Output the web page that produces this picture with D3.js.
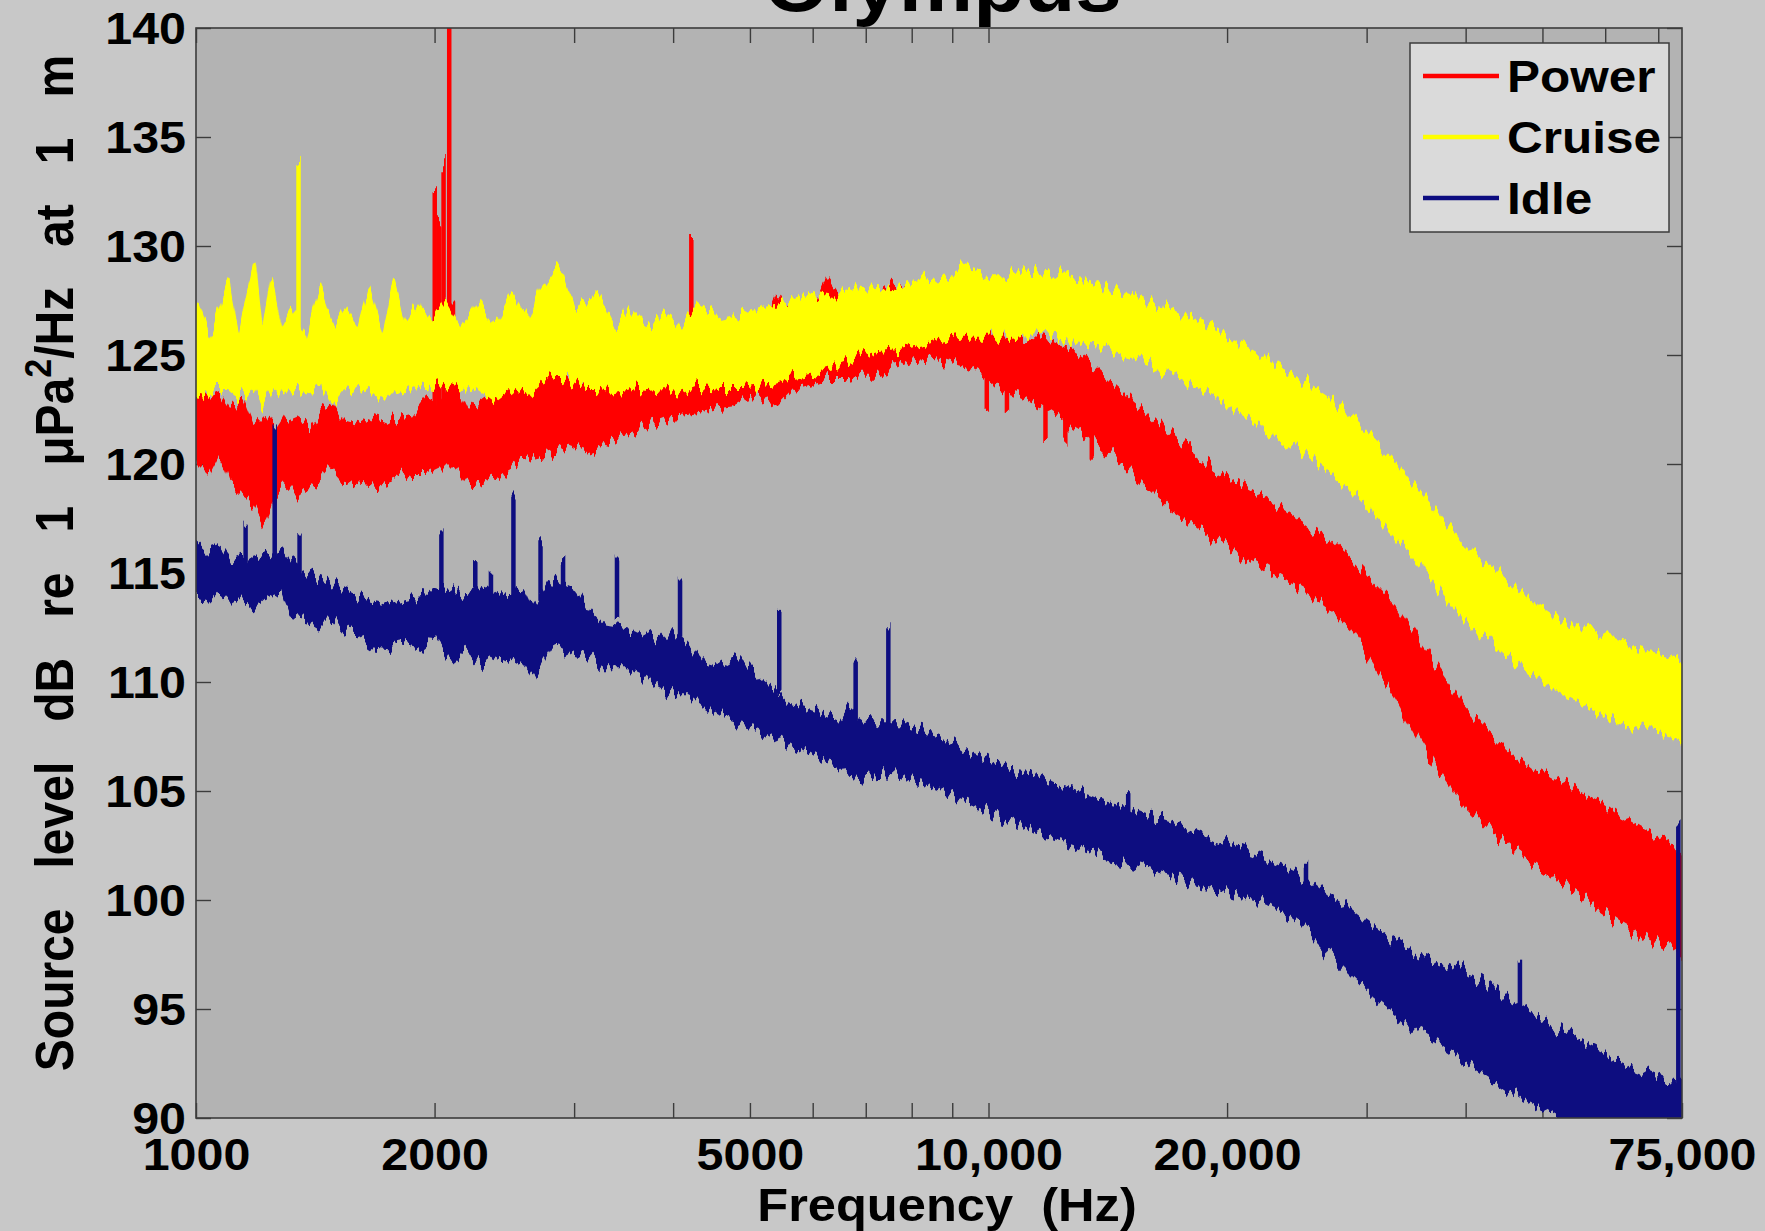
<!DOCTYPE html>
<html><head><meta charset="utf-8">
<script src="https://cdn.jsdelivr.net/npm/d3@7"></script>
<style>
html,body{margin:0;padding:0;background:#c8c8c8;}
svg{display:block;}
text{font-family:"Liberation Sans",Arial,Helvetica,sans-serif;font-weight:bold;fill:#000;}
</style></head><body>
<svg id="chart" width="1765" height="1231"></svg>
<script>
// ---------------- data ----------------
const chartTitle = "Olympus";
const xTitle = "Frequency  (Hz)";
const seriesNames = ["Power", "Cruise", "Idle"];
const xTickValues = [1000, 2000, 3000, 4000, 5000, 6000, 7000, 8000, 9000, 10000, 20000, 30000, 40000, 50000, 60000, 70000];
const xTickLabels = {1000: "1000", 2000: "2000", 5000: "5000", 10000: "10,000", 20000: "20,000", 75000: "75,000"};
const yTickValues = [90, 95, 100, 105, 110, 115, 120, 125, 130, 135, 140];

// [frequency Hz, lower edge dB, upper edge dB] of each noisy trace
const powerBand = [
[1000,120.3,123.3],[1005,120.1,123.5],[1037,119.6,123.0],[1071,120.6,123.2],[1107,119.1,122.4],
[1144,118.6,123.0],[1181,118.3,121.7],[1221,117.4,122.2],[1261,118.6,121.4],[1303,119.1,122.2],
[1347,118.6,121.9],[1392,119.0,121.7],[1438,119.3,122.4],[1485,119.9,122.7],[1535,119.3,121.9],
[1612,119.1,121.7],[1693,119.0,122.2],[1778,119.3,121.9],[1867,119.6,122.1],[1949,119.6,123.0],
[2027,119.9,122.7],[2122,119.9,123.7],[2200,119.1,122.4],[2310,119.3,123.0],[2426,119.6,123.5],
[2548,120.1,123.7],[2677,120.4,124.0],[2811,120.6,124.3],[2953,120.9,124.0],[3101,120.6,123.7],
[3257,120.9,124.2],[3420,121.4,124.0],[3593,121.7,124.7],[3773,121.9,124.5],[3963,122.2,124.9],
[4162,122.3,125.0],[4301,122.4,125.2],[4517,122.6,125.3],[4745,122.7,125.5],[4901,123.0,126.9],
[5149,123.2,126.1],[5408,122.7,127.7],[5680,123.5,126.6],[5966,123.7,126.8],[6265,124.0,128.4],
[6579,124.0,127.3],[6910,124.2,127.4],[7258,124.2,127.8],[7623,124.5,128.3],[8007,124.8,127.9],
[8410,124.9,128.0],[8831,124.8,127.6],[9428,124.5,127.1],[10000,124.0,126.3],[10400,123.5,125.9],
[10924,123.2,125.8],[11472,122.8,125.7],[12050,122.4,125.5],[12658,121.9,125.2],[13295,121.4,124.7],
[13964,120.7,124.0],[14907,119.9,123.1],[15910,119.0,122.2],[16989,118.0,121.3],[18139,117.3,120.5],
[19364,116.5,119.7],[20673,115.9,119.1],[22077,115.4,118.5],[23565,114.8,117.8],[25153,114.2,117.1],
[26853,113.4,116.5],[28668,112.4,115.6],[30605,110.9,114.5],[32672,109.3,113.4],[34876,107.4,111.8],
[37239,105.8,110.4],[39756,104.4,108.9],[42443,103.4,107.8],[45319,102.6,106.9],[48388,101.8,106.1],
[51653,101.1,105.5],[55140,100.4,105.0],[58881,99.7,104.5],[62848,99.0,103.8],[67082,98.4,103.2],
[71632,97.8,102.6],[75000,97.5,102.2]
];
const cruiseBand = [
[1000,123.2,127.0],[1005,123.2,127.3],[1037,123.1,125.8],[1054,123.5,126.3],[1099,123.5,128.3],
[1132,123.1,125.8],[1185,123.5,129.3],[1213,122.8,125.8],[1245,123.5,128.4],[1282,123.2,126.3],
[1316,123.5,127.1],[1378,123.3,125.8],[1433,123.7,128.0],[1485,122.8,126.3],[1535,123.5,127.1],
[1602,123.4,126.1],[1655,123.5,128.0],[1721,122.9,125.8],[1778,123.5,128.3],[1837,123.3,126.3],
[1911,123.7,127.3],[1994,123.5,126.6],[2060,123.7,127.4],[2164,123.4,126.1],[2273,123.5,127.4],
[2387,122.9,126.3],[2507,123.5,127.8],[2633,123.2,126.6],[2721,123.7,128.0],[2830,124.0,128.9],
[2905,124.0,128.6],[3001,123.7,127.1],[3101,123.5,127.4],[3204,123.5,127.8],[3365,123.3,126.3],
[3535,123.5,127.1],[3712,123.4,126.3],[3898,123.5,126.9],[4095,123.3,126.3],[4301,123.6,127.3],
[4592,123.5,126.6],[4901,123.5,126.8],[5234,123.7,127.2],[5588,124.0,127.4],[5966,124.2,127.8],
[6368,124.5,127.6],[6798,124.9,128.1],[7258,125.2,128.0],[7749,125.3,128.1],[8273,125.5,128.4],
[8831,125.8,128.5],[9275,125.9,128.9],[10000,125.9,128.6],[10746,125.9,128.6],[11472,126.1,128.8],
[12249,125.9,128.6],[13079,125.7,128.4],[13964,125.4,128.0],[14907,125.0,127.8],[15910,124.7,127.4],
[16989,124.2,127.1],[18139,123.7,126.6],[19364,123.1,126.1],[20673,122.4,125.5],[22077,121.8,124.9],
[23565,121.1,124.2],[25153,120.5,123.7],[26853,119.7,123.0],[28668,118.8,122.2],[30605,117.8,121.1],
[32672,116.6,120.1],[34876,115.5,118.8],[37239,114.2,117.5],[39756,112.9,116.2],[42443,112.0,115.5],
[45319,111.1,114.5],[48388,110.3,113.7],[51653,109.7,113.0],[55140,109.2,112.5],[58881,108.6,112.1],
[62848,108.2,111.7],[67082,108.0,111.4],[71632,107.7,111.2],[75000,107.5,110.9]
];
const idleBand = [
[1000,113.9,116.3],[1003,113.9,116.5],[1037,113.7,116.0],[1071,114.2,116.2],[1107,113.7,115.5],
[1132,113.9,115.7],[1181,113.4,115.5],[1221,113.9,115.7],[1282,114.2,116.0],[1316,113.1,115.5],
[1392,112.9,114.9],[1438,112.6,114.7],[1485,113.1,114.4],[1535,112.5,114.2],[1602,112.1,113.9],
[1666,111.7,113.7],[1750,111.6,113.5],[1837,111.8,113.7],[1930,111.6,113.9],[2001,112.1,114.4],
[2094,111.1,114.2],[2178,111.6,113.9],[2310,110.8,114.4],[2426,111.3,113.9],[2591,110.8,114.2],
[2651,110.3,113.4],[2811,111.8,114.7],[3001,111.3,114.2],[3152,111.1,113.1],[3257,110.6,112.6],
[3512,110.6,112.4],[3652,110.3,112.1],[3835,109.8,111.8],[3976,109.5,112.4],[4190,109.5,111.6],
[4372,109.0,110.8],[4592,108.5,110.6],[4823,108.2,111.1],[5065,108.0,110.3],[5268,107.7,109.8],
[5588,107.2,109.0],[5869,106.8,108.8],[6164,106.4,108.5],[6473,106.2,108.2],[6666,105.8,108.8],
[7025,105.7,108.2],[7258,105.8,108.0],[7749,105.7,108.0],[8139,105.4,107.7],[8548,105.2,107.5],
[8977,104.9,107.2],[9428,104.5,106.7],[10000,104.1,106.3],[10746,103.7,105.9],[11472,103.2,105.7],
[12249,102.8,105.2],[13079,102.4,104.9],[13964,102.0,104.5],[14907,101.7,104.2],[15910,101.4,103.8],
[16989,101.1,103.5],[18139,100.8,103.1],[19364,100.5,102.7],[20673,100.2,102.3],[22077,100.0,101.9],
[23565,99.5,101.5],[25153,98.7,101.0],[26853,97.6,100.2],[28668,96.6,99.5],[30605,95.6,98.7],
[32672,94.8,98.0],[34876,94.0,97.5],[37239,93.4,97.1],[39756,92.7,96.7],[42443,92.0,96.1],
[45319,91.3,95.4],[48388,90.7,94.8],[51653,90.2,94.2],[55140,89.6,93.5],[58881,89.4,93.0],
[62848,89.1,92.5],[67082,89.1,92.1],[71632,89.1,91.7],[75000,89.1,91.6]
];
// narrow tonal peaks and dips: [frequency Hz, band edge dB, tip dB]
const powerSpikes = [[2001,122.5,132.6],[2027,122.5,131.0],[2053,122.5,133.8],[2087,122.5,141],[2110,123,127.5],[4217,124.5,130.5],
[9950,124.2,122.4],[10550,123.6,122.3],[11800,122.7,121.1],[12500,122.1,121.3],[13500,121.2,120.2]];
const cruiseSpikes = [[1347,125.0,133.9]];
const idleSpikes = [[1155,115.5,117.4],[1257,115.7,121.9],[1351,115.2,116.9],[2040,114.3,117.0],[2251,114.2,115.5],
[2356,114.0,115.2],[2515,114.0,118.6],[2721,114.0,116.5],[2905,114.3,115.5],[3398,112.8,115.8],[4081,112.0,114.7],
[5444,109.5,113.4],[6798,108.5,110.8],[7475,108.0,112.6],[15005,104.0,104.9],[25153,101.0,101.8],[46833,95.0,97.4],[74200,91.6,103.6]];

// ---------------- drawing ----------------
const colors = {Power: "#ff0000", Cruise: "#ffff00", Idle: "#0c0c80"};
const series = [
  {name: "Power", band: powerBand, spikes: powerSpikes},
  {name: "Cruise", band: cruiseBand, spikes: cruiseSpikes},
  {name: "Idle", band: idleBand, spikes: idleSpikes}
];
const m = {left: 196, top: 28, right: 1682, bottom: 1118};
const svg = d3.select("#chart");
const x = d3.scaleLog().domain([1000, 75000]).range([m.left, m.right]);
const y = d3.scaleLinear().domain([90, 140]).range([m.bottom, m.top]);
const axisColor = "#3c3c3c";
const SX = 1.1;
function stretch(sel) {
  sel.each(function () {
    const L = this.getComputedTextLength();
    if (L > 0) { this.setAttribute("textLength", L * SX); this.setAttribute("lengthAdjust", "spacingAndGlyphs"); }
  });
}

// rough-edge texture for the dense spectra (visual style only)
const defs = svg.append("defs");
[["rough0", 3], ["rough1", 7], ["rough2", 11]].forEach(([id, seed]) => {
  const f = defs.append("filter").attr("id", id).attr("x", "-1%").attr("y", "-6%").attr("width", "102%").attr("height", "112%");
  f.append("feTurbulence").attr("type", "fractalNoise").attr("baseFrequency", "0.2 0.01").attr("numOctaves", 2).attr("seed", seed).attr("result", "n");
  f.append("feColorMatrix").attr("in", "n").attr("type", "matrix")
    .attr("values", "0 0 0 0 0.5  0 1 0 0 0  0 0 0 0 0  0 0 0 0 1").attr("result", "m");
  f.append("feDisplacementMap").attr("in", "SourceGraphic").attr("in2", "m").attr("scale", 30)
    .attr("xChannelSelector", "R").attr("yChannelSelector", "G");
});

svg.append("rect").attr("width", 1765).attr("height", 1231).attr("fill", "#c8c8c8");
svg.append("rect").attr("x", m.left).attr("y", m.top).attr("width", m.right - m.left).attr("height", m.bottom - m.top).attr("fill", "#b3b3b3");

function styleAxis(g, fs) {
  g.attr("font-size", null).attr("font-family", null);
  g.select(".domain").remove();
  g.selectAll(".tick line").attr("stroke", axisColor).attr("stroke-width", 1.4);
  g.selectAll(".tick text").attr("font-size", fs).attr("fill", "#000");
}
const gB = svg.append("g").attr("transform", `translate(0,${m.bottom})`)
  .call(d3.axisBottom(x).tickValues(xTickValues.concat([75000])).tickFormat(d => xTickLabels[d] || "")
    .tickSizeInner(-15).tickSizeOuter(0).tickPadding(21));
styleAxis(gB, 44);
const gT = svg.append("g").attr("transform", `translate(0,${m.top})`)
  .call(d3.axisTop(x).tickValues(xTickValues).tickFormat("").tickSizeInner(-15).tickSizeOuter(0));
styleAxis(gT, 44);
const gL = svg.append("g").attr("transform", `translate(${m.left},0)`)
  .call(d3.axisLeft(y).tickValues(yTickValues).tickFormat(d3.format("d")).tickSizeInner(-15).tickSizeOuter(0).tickPadding(10));
styleAxis(gL, 44);
gL.selectAll(".tick text").attr("dy", "0.36em");
const gR = svg.append("g").attr("transform", `translate(${m.right},0)`)
  .call(d3.axisRight(y).tickValues(yTickValues).tickFormat("").tickSizeInner(-15).tickSizeOuter(0));
styleAxis(gR, 44);

svg.append("clipPath").attr("id", "plotclip").append("rect")
  .attr("x", m.left).attr("y", m.top).attr("width", m.right - m.left).attr("height", m.bottom - m.top);
const plot = svg.append("g").attr("clip-path", "url(#plotclip)");
const area = d3.area().x(d => x(d[0])).y0(d => y(d[1])).y1(d => y(d[2]));
series.forEach((s, i) => {
  const c = colors[s.name];
  const g = plot.append("g").attr("filter", `url(#rough${i})`);
  g.append("path").attr("d", area(s.band)).attr("fill", c).attr("stroke", c)
    .attr("stroke-width", 2.5).attr("stroke-linejoin", "round");
  g.append("g").selectAll("line").data(s.spikes).join("line")
    .attr("x1", d => x(d[0])).attr("x2", d => x(d[0]))
    .attr("y1", d => y(d[1])).attr("y2", d => y(d[2]))
    .attr("stroke", c).attr("stroke-width", 4.5);
});

svg.append("rect").attr("x", m.left).attr("y", m.top).attr("width", m.right - m.left).attr("height", m.bottom - m.top)
  .attr("fill", "none").attr("stroke", axisColor).attr("stroke-width", 1.6);

stretch(gB.selectAll(".tick text"));
stretch(gL.selectAll(".tick text"));

// legend
const lg = svg.append("g");
lg.append("rect").attr("x", 1410).attr("y", 43).attr("width", 259).attr("height", 189)
  .attr("fill", "#dadada").attr("stroke", axisColor).attr("stroke-width", 1.5);
const ly = d3.scalePoint().domain(seriesNames).range([76, 198]);
seriesNames.forEach(n => {
  lg.append("line").attr("x1", 1423).attr("x2", 1499).attr("y1", ly(n)).attr("y2", ly(n))
    .attr("stroke", colors[n]).attr("stroke-width", 4.5);
  lg.append("text").attr("x", 1507).attr("y", ly(n) + 16).attr("font-size", 45).text(n);
});
stretch(lg.selectAll("text"));

// titles
const tt = svg.append("text").attr("x", 943).attr("y", 11).attr("text-anchor", "middle").attr("font-size", 76).text(chartTitle);
stretch(tt);
const xt = svg.append("text").attr("x", 947).attr("y", 1221).attr("text-anchor", "middle").attr("font-size", 46)
  .style("white-space", "pre").text(xTitle);
stretch(xt);
const yl = svg.append("text").attr("transform", `translate(73,563) scale(${SX},1) rotate(-90)`)
  .attr("text-anchor", "middle").attr("font-size", 48).style("white-space", "pre");
yl.append("tspan").text("Source   level   dB   re   1   \u03bcPa");
yl.append("tspan").attr("font-size", 34).attr("dy", -20).text("2");
yl.append("tspan").attr("dy", 20).text("/Hz   at   1   m");
</script>
</body></html>
